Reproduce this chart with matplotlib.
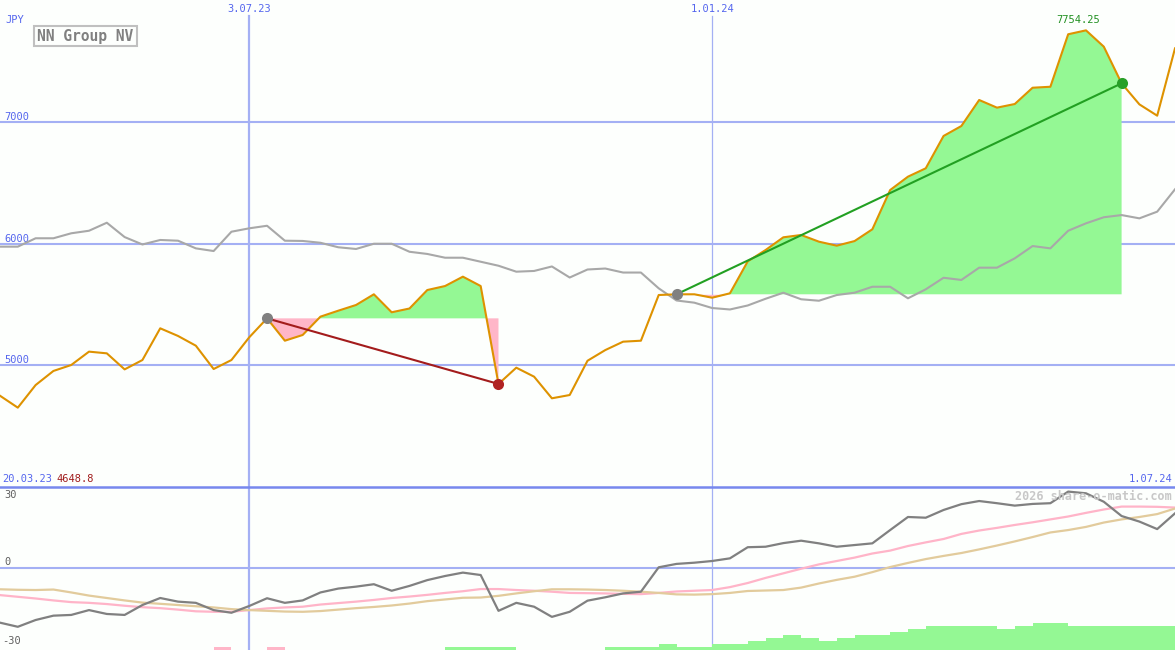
import matplotlib
matplotlib.use('Agg')
import matplotlib.pyplot as plt
import matplotlib.transforms as mtransforms
from matplotlib.lines import Line2D
import numpy as np
import pandas as pd

# ---------------- data ----------------
dates = pd.date_range('2023-03-27', periods=67, freq='W-MON')

price = [4747, 4649, 4835, 4951, 5000, 5110, 5096, 4964, 5041, 5302,
         5239, 5159, 4967, 5041, 5228, 5384, 5200, 5247, 5398, 5447,
         5494, 5582, 5434, 5465, 5617, 5650, 5727, 5650, 4844, 4978,
         4904, 4726, 4753, 5035, 5123, 5192, 5200, 5576, 5582, 5582,
         5554, 5590, 5853, 5946, 6051, 6070, 6015, 5982, 6020, 6117,
         6440, 6550, 6619, 6885, 6967, 7181, 7118, 7148, 7282, 7290,
         7722, 7754.25, 7620, 7318, 7145, 7052, 7606]

compare = [5974, 5974, 6043, 6043, 6084, 6105, 6171, 6053, 5992, 6029,
           6023, 5960, 5938, 6097, 6125, 6146, 6023, 6021, 6006, 5969,
           5955, 5998, 5998, 5932, 5914, 5883, 5883, 5850, 5817, 5768,
           5774, 5811, 5720, 5786, 5794, 5761, 5761, 5631, 5531, 5513,
           5469, 5457, 5490, 5545, 5595, 5541, 5529, 5576, 5595, 5644,
           5644, 5549, 5623, 5718, 5700, 5801, 5801, 5878, 5979, 5960,
           6105, 6166, 6216, 6234, 6207, 6262, 6446]

osc_main = [-22.6, -24.3, -21.5, -19.7, -19.4, -17.4, -19.0, -19.4, -15.3, -12.4,
            -13.9, -14.4, -17.4, -18.5, -15.7, -12.5, -14.4, -13.4, -10.1, -8.5,
            -7.7, -6.7, -9.4, -7.4, -5.0, -3.3, -1.9, -2.9, -17.7, -14.4,
            -16.0, -20.2, -18.1, -13.5, -12.1, -10.5, -9.8, 0.3, 1.7, 2.2,
            2.9, 4.0, 8.6, 8.8, 10.3, 11.3, 10.2, 8.8, 9.5, 10.2,
            15.7, 21.1, 20.8, 24.0, 26.4, 27.7, 26.8, 25.8, 26.5, 26.8,
            31.6, 30.9, 27.4, 21.5, 19.2, 16.1, 22.6]

osc_fast = [-11.2, -11.9, -12.6, -13.4, -14.1, -14.4, -14.9, -15.6, -16.2, -16.6,
            -17.2, -17.9, -18.1, -18.1, -17.4, -16.7, -16.3, -16.0, -15.1, -14.5,
            -13.9, -13.2, -12.4, -11.8, -11.1, -10.3, -9.6, -8.7, -8.7, -9.1,
            -9.4, -9.8, -10.3, -10.4, -10.5, -10.7, -10.8, -10.3, -9.7, -9.4,
            -9.1, -7.9, -6.2, -4.1, -2.2, -0.3, 1.5, 2.9, 4.3, 6.0,
            7.2, 9.1, 10.6, 12.0, 14.1, 15.5, 16.6, 17.8, 18.9, 20.1,
            21.3, 22.8, 24.2, 25.4, 25.4, 25.3, 25.0]

osc_slow = [-8.8, -9.0, -9.1, -8.9, -10.1, -11.4, -12.4, -13.4, -14.3, -14.8,
            -15.3, -15.8, -16.3, -17.0, -17.4, -17.7, -18.0, -18.1, -17.8, -17.2,
            -16.6, -16.1, -15.5, -14.7, -13.7, -13.0, -12.3, -12.2, -11.5, -10.5,
            -9.6, -8.8, -8.8, -8.9, -9.1, -9.4, -9.8, -10.3, -10.9, -11.0,
            -10.8, -10.3, -9.5, -9.3, -9.1, -8.1, -6.4, -4.9, -3.6, -1.7,
            0.4, 2.1, 3.7, 5.0, 6.2, 7.7, 9.3, 11.0, 12.8, 14.7,
            15.7, 17.0, 18.8, 20.1, 21.1, 22.3, 24.6]

# weekly signal bars (+ green / - pink)
bar_levels = [0, 0, 0, 0, 0, 0, 0, 0, 0, 0,
              0, 0, -1, 0, 0, -1, 0, 0, 0, 0,
              0, 0, 0, 0, 0, 1, 1, 1, 1, 0,
              0, 0, 0, 0, 1, 1, 1, 2, 1, 1,
              2, 2, 3, 4, 5, 4, 3, 4, 5, 5,
              6, 7, 8, 8, 8, 8, 7, 8, 9, 9,
              8, 8, 8, 8, 8, 8, 0]

trades = [(15, 28), (38, 63)]          # entry / exit week indices
price_ticks = [5000, 6000, 7000]
osc_ticks = [30, 0, -30]
marked_dates = ['2023-07-03', '2024-01-01']
start_label = '20.03.23'
min_label = '4648.8'
max_label = '7754.25'
currency = 'JPY'
title = 'NN Group NV'
credit = '2026 share-o-matic.com'

# ---------------- style ----------------
W, H = 1175, 650
BG = '#fdfffd'
GRID = '#a4b0f4'
BLUE_TXT = '#5566ee'
FONT = 'DejaVu Sans Mono'

def dlabel(d):
    d = pd.Timestamp(d)
    return f"{d.day}.{d.month:02d}.{d.year % 100:02d}"

fig = plt.figure(figsize=(W / 100, H / 100), dpi=100)
fig.patch.set_facecolor(BG)
split = 163 / H
ax = fig.add_axes([0, split, 1, 1 - split])
ax2 = fig.add_axes([0, 0, 1, split])
ax3 = fig.add_axes([0, 0, 1, split])
for a in (ax, ax2, ax3):
    a.set_axis_off()
    a.set_xlim(dates[0], dates[-1])

ax.set_ylim(3996, 8004)
ax2.set_ylim(-33.9, 33.5)
ax3.set_ylim(0, 163 / 3)

p = np.array(price, dtype=float)
x = dates
top_tr = mtransforms.blended_transform_factory(ax.transData, fig.transFigure)

# main panel grid
for v in price_ticks:
    ax.axhline(v, color=GRID, lw=1.5, zorder=1)
    ax.text(0.004, v, str(v), transform=mtransforms.blended_transform_factory(ax.transAxes, ax.transData),
            fontsize=7.5, family=FONT, color=BLUE_TXT, va='bottom', ha='left')
for i, d in enumerate(marked_dates):
    lw = 1.6 if i == 0 else 0.9
    ax.axvline(pd.Timestamp(d), ymax=1 - 16 / 487, color=GRID, lw=lw, zorder=1)
    ax2.axvline(pd.Timestamp(d), color=GRID, lw=lw, zorder=1)
    ax.text(pd.Timestamp(d), 1 - 9 / H, dlabel(d), transform=top_tr, fontsize=7.5, family=FONT,
            color=BLUE_TXT, ha='center', va='center', clip_on=False)

# trade fills
for i, j in trades:
    xs = x[i:j + 1]
    ps = p[i:j + 1]
    e = p[i]
    ax.fill_between(xs, ps, e, where=ps >= e, interpolate=True, color='#94f894', lw=0, zorder=2)
    ax.fill_between(xs, ps, e, where=ps < e, interpolate=True, color='#ffb6c8', lw=0, zorder=2)

# comparison line (drawn over fills)
ax.plot(x, compare, color='#a8a8a8', lw=1.5, zorder=3)

# price line
ax.plot(x, p, color='#de9200', lw=1.5, zorder=5)

# trade lines and markers
for i, j in trades:
    win = p[j] >= p[i]
    lc = '#22a022' if win else '#a31c1c'
    mc = '#28a028' if win else '#b02222'
    ax.plot([x[i], x[j]], [p[i], p[j]], color=lc, lw=1.5, zorder=6)
    ax.plot([x[i]], [p[i]], 'o', color='#808080', ms=8, mew=0, zorder=7)
    ax.plot([x[j]], [p[j]], 'o', color=mc, ms=8, mew=0, zorder=7)

# max label
imax = int(np.argmax(p))
ax.annotate(max_label, (x[imax], p[imax]), xytext=(-8, 10), textcoords='offset pixels',
            fontsize=7.5, family=FONT, color='#229022', ha='center', va='center')

# texts top-left
fig.text(5 / W, 1 - 20 / H, currency, fontsize=7.5, family=FONT, color=BLUE_TXT, ha='left', va='center')
fig.text(85.5 / W, 1 - 36 / H, title, fontsize=10.5, family=FONT, fontweight='bold', color='#808080',
         ha='center', va='center',
         bbox=dict(boxstyle='square,pad=0.2', fc=BG, ec='#c0c0c0', lw=1.5))

# bottom labels of main panel
fig.text(2 / W, 1 - 478.5 / H, start_label, fontsize=7.5, family=FONT, color=BLUE_TXT, ha='left', va='center')
fig.text(56 / W, 1 - 478.5 / H, min_label, fontsize=7.5, family=FONT, color='#a01c1c', ha='left', va='center')
fig.text(1172 / W, 1 - 478.5 / H, dlabel(dates[-1]), fontsize=7.5, family=FONT, color=BLUE_TXT, ha='right', va='center')

# separator
fig.add_artist(Line2D([0, 1], [split, split], transform=fig.transFigure, color='#7788ee', lw=1.8))

# lower panel
ax2.axhline(0, color=GRID, lw=1.5, zorder=1)
ax2.plot(x, osc_fast, color='#ffb4c8', lw=1.6, zorder=3)
ax2.plot(x, osc_slow, color='#e2cb9c', lw=1.6, zorder=3)
ax2.plot(x, osc_main, color='#808080', lw=1.6, zorder=4)

lv = np.array(bar_levels)
cols = ['#94f894' if v > 0 else '#ffb6c8' for v in lv]
ax3.bar(x, np.abs(lv), width=7, align='edge', color=cols, lw=0, zorder=2)

ty = mtransforms.blended_transform_factory(ax2.transAxes, ax2.transData)
ax2.text(0.004, osc_ticks[0], str(osc_ticks[0]), transform=ty, fontsize=7.5, family=FONT, color='#606060', va='center')
ax2.text(0.004, osc_ticks[1], str(osc_ticks[1]), transform=ty + mtransforms.ScaledTranslation(0, 6 / 100, fig.dpi_scale_trans),
         fontsize=7.5, family=FONT, color='#606060', va='center')
ax2.text(0.002, osc_ticks[2], str(osc_ticks[2]), transform=ty, fontsize=7.5, family=FONT, color='#606060', va='center')

fig.text(1172 / W, 1 - 496 / H, credit, fontsize=8.5, family=FONT, fontweight='bold', color='#c8c8c8',
         ha='right', va='center')

fig.savefig('out.png', dpi=100, facecolor=BG)
